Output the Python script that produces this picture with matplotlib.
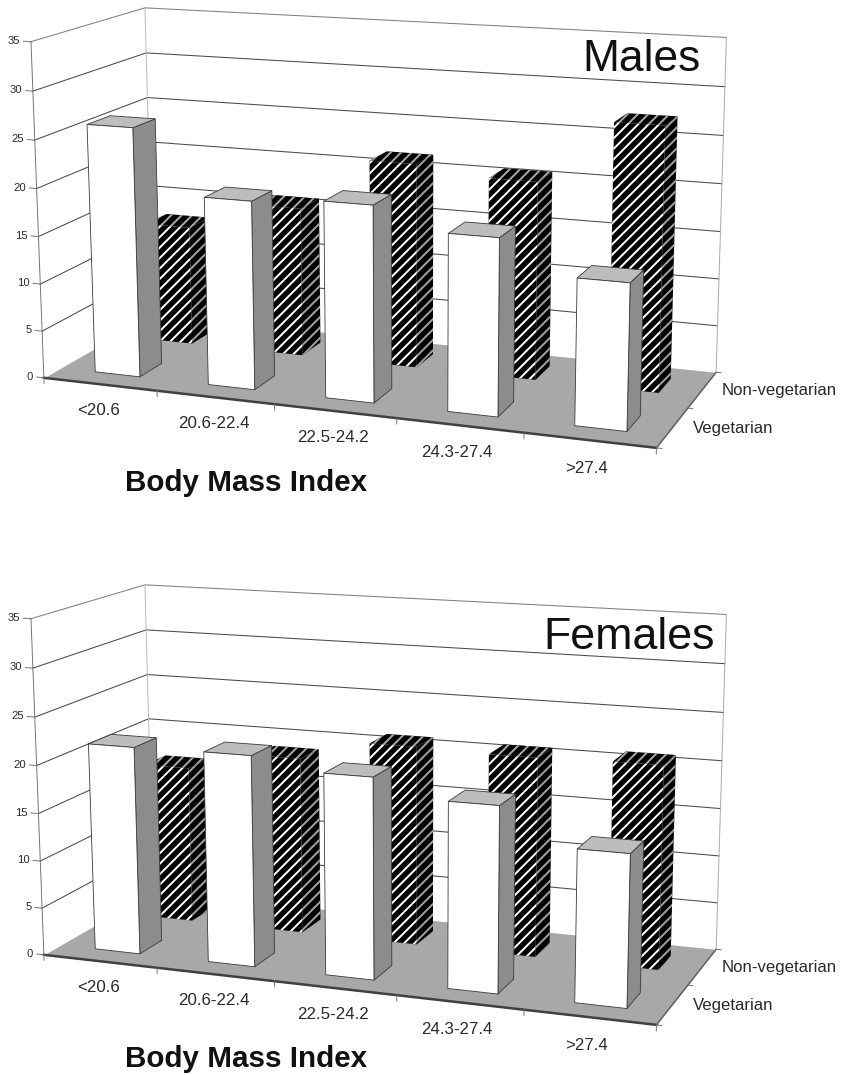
import matplotlib
matplotlib.use("Agg")
import matplotlib.pyplot as plt
from mpl_toolkits.mplot3d import proj3d
from mpl_toolkits.mplot3d.art3d import Poly3DCollection

bmi_labels = ["<20.6", "20.6-22.4", "22.5-24.2", "24.3-27.4", ">27.4"]
diet_labels = ["Vegetarian", "Non-vegetarian"]
z_ticks = [0, 5, 10, 15, 20, 25, 30, 35]

males_veg = [26.2, 19.6, 20.2, 18.0, 14.7]
males_nonveg = [12.9, 16.0, 21.7, 20.8, 27.4]
females_veg = [21.8, 21.9, 20.7, 18.9, 15.3]
females_nonveg = [16.9, 18.9, 21.1, 20.9, 21.1]

# the hatch tile grows with dpi, so the dpi sets the stripe spacing; K keeps sizes in pixels
W, H, DPI = 841, 1075, 94
K = 75 / DPI
# camera fitted to the corners of the reference box
SCALE, CX, CY = 4016.95, 380.10, 210.15

plt.rcParams['font.family'] = ['Liberation Sans', 'DejaVu Sans']
plt.rcParams['hatch.linewidth'] = 1.9 * K


def add_faces(ax, faces, face, edge, lw, zorder, hatch=None):
    ax.add_collection3d(Poly3DCollection(faces, facecolors=face, edgecolors=edge,
                                         linewidths=lw * K, hatch=hatch, zorder=zorder))


def label(ax, x, y, z, s, size, **kw):
    # text2D at the projected spot, so the text box sits where it is drawn
    px, py, _ = proj3d.proj_transform(x, y, z, ax.get_proj())
    ax.text2D(px, py, s, transform=ax.transData, color='#2a2a2a', va='center',
              fontsize=size * K, **kw)


def draw_bar(ax, i, row, h, zorder):
    x0, x1 = i + 0.3, i + 0.7
    y0, y1 = row + 0.3, row + 0.7
    front = [(x0, y0, 0), (x1, y0, 0), (x1, y0, h), (x0, y0, h)]
    side = [(x1, y0, 0), (x1, y1, 0), (x1, y1, h), (x1, y0, h)]
    top = [(x0, y0, h), (x1, y0, h), (x1, y1, h), (x0, y1, h)]
    if row == 0:
        add_faces(ax, [side], '#8c8c8c', '#3a3a3a', 0.8, zorder)
        add_faces(ax, [top], '#bdbdbd', '#3a3a3a', 0.8, zorder)
        add_faces(ax, [front], 'white', '#3a3a3a', 0.8, zorder)
    else:
        add_faces(ax, [side], 'black', '#a0a0a0', 0, zorder, '///')
        add_faces(ax, [top], 'black', '#a8a8a8', 0, zorder, '///')
        add_faces(ax, [front], 'black', 'white', 0, zorder, '///')


def draw_panel(fig, dy, veg, nonveg):
    ax = fig.add_axes([0, 0, 1, 1], projection='3d', computed_zorder=False)
    ax.set_xlim(0, 5, view_margin=0)
    ax.set_ylim(0, 2, view_margin=0)
    ax.set_zlim(0, 35, view_margin=0)
    ax.view_init(13.0468, -69.3294, 0.2171)
    ax.set_proj_type('persp', focal_length=0.5716)
    ax.set_box_aspect((1, 0.3945, 0.5413))
    ax.set_axis_off()
    ax.patch.set_visible(False)

    # place the axes so the view coordinates land on the wanted pixels
    vx0, vx1 = ax.viewLim.intervalx
    vy0, vy1 = ax.viewLim.intervaly
    size = SCALE * (vx1 - vx0)
    left = CX + SCALE * vx0
    bottom = CY - SCALE * vy0 + dy
    ax.set_position([left / W, 1 - bottom / H, size / W, size / H])

    # floor
    add_faces(ax, [[(0, 0, 0), (5, 0, 0), (5, 2, 0), (0, 2, 0)]], '#a8a8a8', '#a8a8a8', 0, 1)
    ax.plot([0, 5], [0, 0], [0, 0], color='#404040', lw=2.4 * K, zorder=2)
    ax.plot([5, 5], [0, 2], [0, 0], color='#606060', lw=1.4 * K, zorder=2)

    # walls
    for z in z_ticks[1:]:
        col = '#808080' if z == 35 else '#4a4a4a'
        ax.plot([0, 0, 5], [0, 2, 2], [z, z, z], color=col, lw=1.0 * K, zorder=2)
    ax.plot([0, 0], [0, 0], [0, 35], color='#707070', lw=0.9 * K, zorder=2)
    ax.plot([0, 0], [2, 2], [0, 35], color='#b8b8b8', lw=0.9 * K, zorder=2)
    ax.plot([5, 5], [2, 2], [0, 35], color='#a8a8a8', lw=0.9 * K, zorder=2)

    # ticks and tick labels
    for z in z_ticks:
        ax.plot([-0.065, 0], [0, 0], [z, z], color='#707070', lw=0.9 * K, zorder=2)
        label(ax, -0.095, 0, z, str(z), 10.8, ha='right')
    for i in range(6):
        ax.plot([i, i], [0, 0], [0, -0.6], color='#707070', lw=0.9 * K, zorder=2)
    for j in range(3):
        ax.plot([5, 5.04], [j, j], [0, 0], color='#707070', lw=0.9 * K, zorder=2)
    for i, lab in enumerate(bmi_labels):
        label(ax, i + 0.48, 0, -2.8, lab, 16.2, ha='center')
    for j, lab in enumerate(diet_labels):
        label(ax, 5.15, j + 0.5, 0.15, lab, 16.1, ha='left')

    # back row first, the front row covers it
    for i, h in enumerate(nonveg):
        draw_bar(ax, i, 1, h, 3 + i * 0.1)
    for i, h in enumerate(veg):
        draw_bar(ax, i, 0, h, 5 + i * 0.1)
    return ax


def main():
    fig = plt.figure(figsize=((W + 0.01) / DPI, (H + 0.01) / DPI), dpi=DPI, facecolor='white')
    draw_panel(fig, 0, males_veg, males_nonveg)
    draw_panel(fig, 577, females_veg, females_nonveg)

    fig.text(582 / W, 1 - 71 / H, "Males", fontsize=42.6 * K, color='#111111', va='baseline')
    fig.text(543 / W, 1 - 649 / H, "Females", fontsize=43 * K, color='#111111', va='baseline')
    for y in (491, 1067):
        fig.text(125 / W, 1 - y / H, "Body Mass Index", fontsize=28.5 * K, fontweight='bold',
                 color='#111111', va='baseline')
    fig.savefig("out.png", dpi=DPI)


if __name__ == "__main__":
    main()
